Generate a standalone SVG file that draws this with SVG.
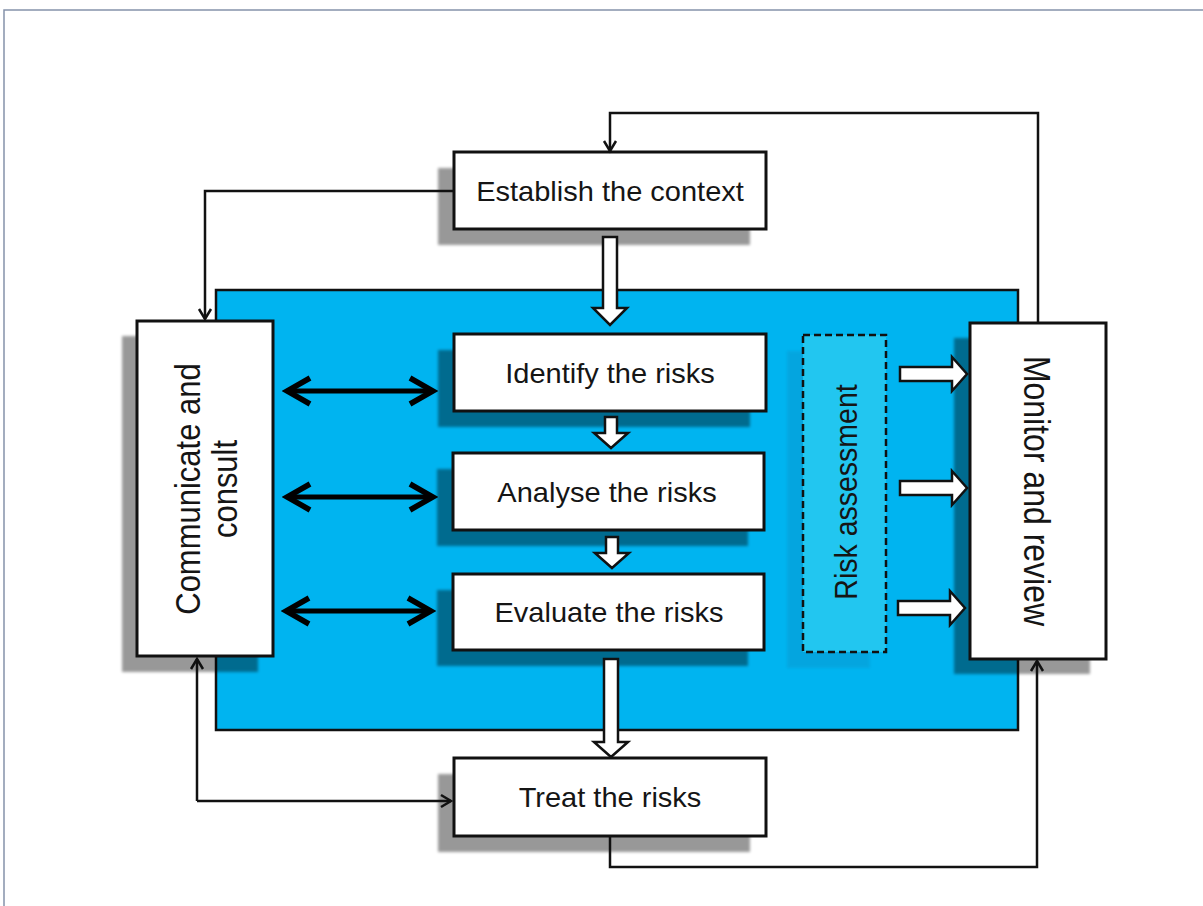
<svg xmlns="http://www.w3.org/2000/svg" width="1203" height="906" viewBox="0 0 1203 906">
<defs>
<style>
.box{fill:#fff;stroke:#111;stroke-width:3}
.sh{fill:#000;opacity:0.4;filter:url(#blur)}
.txt{font-family:"Liberation Sans",Arial,sans-serif;fill:#151515;text-anchor:middle}
.conn{fill:none;stroke:#111;stroke-width:2.5}
.dbl{fill:none;stroke:#000;stroke-width:5}
.blk{fill:#fff;stroke:#111;stroke-width:2.5;stroke-linejoin:miter}
</style>
<filter id="blur" x="-10%" y="-10%" width="120%" height="120%"><feGaussianBlur stdDeviation="1.5"/></filter>
<marker id="ah" markerUnits="userSpaceOnUse" markerWidth="16" markerHeight="16" viewBox="0 0 16 16" refX="13" refY="8" orient="auto"><path d="M3,2 L13,8 L3,14" fill="none" stroke="#111" stroke-width="2.5"/></marker>
<marker id="dh" markerUnits="userSpaceOnUse" markerWidth="32" markerHeight="32" viewBox="0 0 32 32" refX="27" refY="16" orient="auto-start-reverse"><path d="M4,3 L27,16 L4,29" fill="none" stroke="#000" stroke-width="5.5"/></marker>
</defs>
<rect width="1203" height="906" fill="#fff"/>
<path d="M4,906 V10 H1203" fill="none" stroke="#8592aa" stroke-width="1.5"/>

<g id="risk-process-area">
<rect x="216" y="290" width="802" height="440" fill="#00b4f0" stroke="#111" stroke-width="2.5"/>
</g>

<g id="risk-assessment">
<rect x="787" y="351" width="83" height="317" fill="#0a8cc0" opacity="0.35" filter="url(#blur)"/>
<rect x="803" y="335" width="83" height="317" fill="#22c6f0" stroke="#111" stroke-width="2.5" stroke-dasharray="7,4"/>
<text class="txt" font-size="28.5" transform="translate(857,492) scale(1.08,1) rotate(-90)">Risk assessment</text>
</g>

<g id="establish">
<rect class="sh" x="438" y="168" width="312" height="77"/>
<rect class="box" x="454" y="152" width="312" height="77"/>
<text class="txt" font-size="27" transform="translate(610,201) scale(1.075,1)">Establish the context</text>
</g>

<g id="identify">
<rect class="sh" x="438" y="350" width="312" height="77"/>
<rect class="box" x="454" y="334" width="312" height="77"/>
<text class="txt" font-size="27" transform="translate(610,383) scale(1.075,1)">Identify the risks</text>
</g>

<g id="analyse">
<rect class="sh" x="437" y="469" width="311" height="77"/>
<rect class="box" x="453" y="453" width="311" height="77"/>
<text class="txt" font-size="27" transform="translate(607,502) scale(1.075,1)">Analyse the risks</text>
</g>

<g id="evaluate">
<rect class="sh" x="437" y="590" width="311" height="76"/>
<rect class="box" x="453" y="574" width="311" height="76"/>
<text class="txt" font-size="27" transform="translate(609,622) scale(1.075,1)">Evaluate the risks</text>
</g>

<g id="treat">
<rect class="sh" x="438" y="774" width="312" height="78"/>
<rect class="box" x="454" y="758" width="312" height="78"/>
<text class="txt" font-size="27" transform="translate(610,807) scale(1.075,1)">Treat the risks</text>
</g>

<g id="communicate">
<rect class="sh" x="122" y="336" width="136" height="336"/>
<rect class="box" x="137" y="321" width="136" height="335"/>
<text class="txt" font-size="31" transform="translate(200,489) scale(1.12,1) rotate(-90)">Communicate and</text>
<text class="txt" font-size="31" transform="translate(237,489) scale(1.12,1) rotate(-90)">consult</text>
</g>

<g id="monitor">
<rect class="sh" x="954" y="338" width="136" height="336"/>
<rect class="box" x="970" y="323" width="136" height="336"/>
<text class="txt" font-size="32" transform="translate(1024,491) scale(1.15,1) rotate(90)">Monitor and review</text>
</g>

<g id="connectors">
<path class="conn" d="M454,191 H205 V319" marker-end="url(#ah)"/>
<path class="conn" d="M1038,323 V113 H610 V151" marker-end="url(#ah)"/>
<path class="conn" d="M197,801 V659" marker-end="url(#ah)"/>
<path class="conn" d="M197,801 H451" marker-end="url(#ah)"/>
<path class="conn" d="M610,836 V867 H1037 V661" marker-end="url(#ah)"/>

<line class="dbl" x1="287" y1="391" x2="433" y2="391" marker-start="url(#dh)" marker-end="url(#dh)"/>
<line class="dbl" x1="287" y1="497" x2="433" y2="497" marker-start="url(#dh)" marker-end="url(#dh)"/>
<line class="dbl" x1="286" y1="611" x2="431" y2="611" marker-start="url(#dh)" marker-end="url(#dh)"/>

<path class="blk" d="M603,237 H617 V308 H627 L610,325 L593,308 H603 Z"/>
<path class="blk" d="M605,417 H617 V433 H628 L611,448 L594,433 H605 Z"/>
<path class="blk" d="M606,537 H618 V553 H629 L612,568 L595,553 H606 Z"/>
<path class="blk" d="M604,659 H618 V742 H628 L611,757 L594,742 H604 Z"/>

<path class="blk" d="M900,367 H952 V357 L967,374 L952,391 V381 H900 Z"/>
<path class="blk" d="M900,481 H952 V471 L967,488 L952,505 V495 H900 Z"/>
<path class="blk" d="M898,601 H950 V591 L965,608 L950,625 V615 H898 Z"/>
</g>
</svg>
